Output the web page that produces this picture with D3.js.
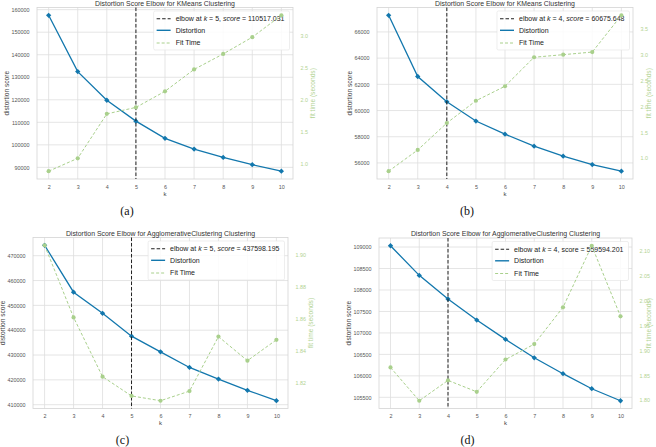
<!DOCTYPE html>
<html lang="en">
<head>
<meta charset="utf-8">
<title>Distortion score elbow - four panels</title>
<script src="https://d3js.org/d3.v7.min.js"></script>
<style type="text/css">
body { margin: 0; background: #fff; }
#vis svg { display: block; }
</style>
</head>
<body>
<div id="vis"></div>
<script>

/* Data */
/* ==== */

var kValues = [2, 3, 4, 5, 6, 7, 8, 9, 10];

var distA = [157500, 132500, 119800, 110517, 102900, 98100, 94400, 91200, 88300];
var fitA  = [0.89, 1.09, 1.78, 1.88, 2.13, 2.47, 2.71, 2.97, 3.31];

var distB = [67270, 62600, 60676, 59200, 58200, 57280, 56520, 55880, 55370];
var fitB  = [0.75, 1.16, 1.68, 2.11, 2.39, 2.95, 3.00, 3.05, 3.76];

var distC = [474200, 455300, 446800, 437598, 431300, 425000, 420300, 415800, 411600];
var fitC  = [1.906, 1.861, 1.824, 1.812, 1.809, 1.815, 1.849, 1.834, 1.847];

var distD = [109030, 108340, 107790, 107300, 106850, 106420, 106050, 105700, 105420];
var fitD  = [1.866, 1.799, 1.840, 1.817, 1.882, 1.913, 1.987, 2.111, 1.969];

var distTicksA = [90000, 100000, 110000, 120000, 130000, 140000, 150000, 160000];
var fitTicksA  = [1.0, 1.5, 2.0, 2.5, 3.0];
var distTicksB = [56000, 58000, 60000, 62000, 64000, 66000];
var fitTicksB  = [1.0, 1.5, 2.0, 2.5, 3.0, 3.5];
var distTicksC = [410000, 420000, 430000, 440000, 450000, 460000, 470000];
var fitTicksC  = [1.82, 1.84, 1.86, 1.88, 1.90];
var distTicksD = [105500, 106000, 106500, 107000, 107500, 108000, 108500, 109000];
var fitTicksD  = [1.80, 1.85, 1.90, 1.95, 2.00, 2.05, 2.10];

var titleKMeans = 'Distortion Score Elbow for KMeans Clustering';
var titleAgglo  = 'Distortion Score Elbow for AgglomerativeClustering Clustering';

var elbowK     = [5, 4, 5, 4];
var elbowScore = ['110517.031', '60675.648', '437598.195', '559594.201'];
var captions   = ['(a)', '(b)', '(c)', '(d)'];


/* Globals and SVG */
/* =============== */

var width = 656,
		height = 447;

var blue = '#1277ad',
		green = '#a9d08c',
		greenText = '#b3d393',
		gridColor = '#dedede',
		tickColor = '#555';

var font = '"Liberation Sans", Arial, sans-serif';

var svg = d3.select('#vis')
	.append('svg')
		.attr('width', width)
		.attr('height', height)
		.style('font-family', font);

svg.append('rect')
	.attr('width', width)
	.attr('height', height)
	.attr('fill', '#fff');

var panels = [
	{ dist: distA, fit: fitA, distTicks: distTicksA, fitTicks: fitTicksA, fitFmt: '.1f', title: titleKMeans,
		x0: 37, x1: 293, y0: 7.5, y1: 179, capY: 211, mathScore: true },
	{ dist: distB, fit: fitB, distTicks: distTicksB, fitTicks: fitTicksB, fitFmt: '.1f', title: titleKMeans,
		x0: 377, x1: 633, y0: 7.5, y1: 179, capY: 211, mathScore: true },
	{ dist: distC, fit: fitC, distTicks: distTicksC, fitTicks: fitTicksC, fitFmt: '.2f', title: titleAgglo,
		x0: 33, x1: 288, y0: 237.5, y1: 408.5, capY: 440, mathScore: true },
	{ dist: distD, fit: fitD, distTicks: distTicksD, fitTicks: fitTicksD, fitFmt: '.2f', title: titleAgglo,
		x0: 379, x1: 632, y0: 238, y1: 408.5, capY: 440, mathScore: false }
];


/* Functions */
/* ========= */

function padded(values) {
	var ext = d3.extent(values),
			pad = (ext[1] - ext[0]) * 0.05;
	return [ext[0] - pad, ext[1] + pad];
}

function drawPanel(p, i) {

	var g = svg.append('g').attr('class', 'panel');

	var x = d3.scaleLinear()
		.domain(padded(kValues))
		.range([p.x0, p.x1]);

	var y = d3.scaleLinear()
		.domain(padded(p.dist))
		.range([p.y1, p.y0]);

	var y2 = d3.scaleLinear()
		.domain(padded(p.fit))
		.range([p.y1, p.y0]);

	// grid
	g.append('g').selectAll('line.vgrid')
		.data(kValues)
		.enter().append('line')
			.attr('x1', function(d) { return x(d); })
			.attr('x2', function(d) { return x(d); })
			.attr('y1', p.y0)
			.attr('y2', p.y1)
			.attr('stroke', gridColor)
			.attr('stroke-width', 0.8);

	g.append('g').selectAll('line.hgrid')
		.data(p.distTicks)
		.enter().append('line')
			.attr('x1', p.x0)
			.attr('x2', p.x1)
			.attr('y1', function(d) { return y(d); })
			.attr('y2', function(d) { return y(d); })
			.attr('stroke', gridColor)
			.attr('stroke-width', 0.8);

	g.append('rect')
		.attr('x', p.x0)
		.attr('y', p.y0)
		.attr('width', p.x1 - p.x0)
		.attr('height', p.y1 - p.y0)
		.attr('fill', 'none')
		.attr('stroke', '#d4d4d4')
		.attr('stroke-width', 0.8);

	// axes (tick labels only, no tick marks)
	var xAxis = g.append('g')
		.attr('transform', 'translate(0,' + (p.y1 + 3) + ')')
		.call(d3.axisBottom(x).tickValues(kValues).tickSize(0).tickFormat(d3.format('d')));

	var yAxis = g.append('g')
		.attr('transform', 'translate(' + (p.x0 - 4.5) + ',0)')
		.call(d3.axisLeft(y).tickValues(p.distTicks).tickSize(0).tickFormat(d3.format('d')));

	var y2Axis = g.append('g')
		.attr('transform', 'translate(' + (p.x1 + 4.5) + ',0)')
		.call(d3.axisRight(y2).tickValues(p.fitTicks).tickSize(0).tickFormat(d3.format(p.fitFmt)));

	[xAxis, yAxis, y2Axis].forEach(function(a) {
		a.select('.domain').remove();
		a.selectAll('text')
			.attr('font-family', font)
			.attr('font-size', 5.4)
			.attr('fill', tickColor);
	});
	y2Axis.selectAll('text').attr('fill', greenText);

	var leftW = d3.max(yAxis.selectAll('text').nodes(), function(n) { return n.getBBox().width; });
	var rightW = d3.max(y2Axis.selectAll('text').nodes(), function(n) { return n.getBBox().width; });

	// axis labels (kept inside the page)
	var leftLabelX = Math.max(5, p.x0 - 4.5 - leftW - 6);
	var rightLabelX = Math.min(width - 10, p.x1 + 4.5 + rightW + 5);

	g.append('text')
		.attr('transform', 'translate(' + leftLabelX + ',' + ((p.y0 + p.y1) / 2) + ') rotate(-90)')
		.attr('text-anchor', 'middle')
		.attr('font-size', 6.6)
		.attr('fill', '#444')
		.text('distortion score');

	g.append('text')
		.attr('transform', 'translate(' + rightLabelX + ',' + ((p.y0 + p.y1) / 2) + ') rotate(-90)')
		.attr('text-anchor', 'middle')
		.attr('dy', '0.7em')
		.attr('font-size', 6.6)
		.attr('fill', greenText)
		.text('fit time (seconds)');

	g.append('text')
		.attr('x', (p.x0 + p.x1) / 2)
		.attr('y', p.y1 + 16.5)
		.attr('text-anchor', 'middle')
		.attr('font-size', 6)
		.attr('fill', '#444')
		.text('k');

	// title
	g.append('text')
		.attr('x', (p.x0 + p.x1) / 2)
		.attr('y', p.y0 - 2)
		.attr('text-anchor', 'middle')
		.attr('font-size', 6.9)
		.attr('fill', '#333')
		.text(p.title);

	// distortion line
	var distLine = d3.line()
		.x(function(d, j) { return x(kValues[j]); })
		.y(function(d) { return y(d); });

	g.append('path')
		.datum(p.dist)
		.attr('d', distLine)
		.attr('fill', 'none')
		.attr('stroke', blue)
		.attr('stroke-width', 1.3);

	g.append('g').selectAll('path.diamond')
		.data(p.dist)
		.enter().append('path')
			.attr('d', d3.symbol().type(d3.symbolSquare).size(14))
			.attr('transform', function(d, j) { return 'translate(' + x(kValues[j]) + ',' + y(d) + ') rotate(45)'; })
			.attr('fill', blue);

	// elbow line
	g.append('line')
		.attr('x1', x(elbowK[i]))
		.attr('x2', x(elbowK[i]))
		.attr('y1', p.y0)
		.attr('y2', p.y1)
		.attr('stroke', '#222')
		.attr('stroke-width', 1)
		.attr('stroke-dasharray', '3.5,2');

	// legend
	var leg = g.append('g');
	var box = leg.append('rect')
		.attr('fill', '#fff')
		.attr('fill-opacity', 0.85)
		.attr('stroke', '#e2e2e2')
		.attr('stroke-width', 0.6)
		.attr('rx', 1.5);

	var rows = [p.y0 + 11.3, p.y0 + 22.8, p.y0 + 35.5];

	var elbowText = leg.append('text')
		.attr('y', rows[0])
		.attr('dy', '0.35em')
		.attr('font-size', 7)
		.attr('fill', '#222');
	elbowText.append('tspan').text('elbow at ');
	elbowText.append('tspan').attr('font-style', 'italic').text('k');
	elbowText.append('tspan').text(' = ' + elbowK[i] + ', ');
	elbowText.append('tspan').attr('font-style', p.mathScore ? 'italic' : 'normal').text('score');
	elbowText.append('tspan').text(' = ' + elbowScore[i]);

	var distText = leg.append('text')
		.attr('y', rows[1])
		.attr('dy', '0.35em')
		.attr('font-size', 7)
		.attr('fill', '#222')
		.text('Distortion');

	var fitText = leg.append('text')
		.attr('y', rows[2])
		.attr('dy', '0.35em')
		.attr('font-size', 7)
		.attr('fill', '#222')
		.text('Fit Time');

	var textW = elbowText.node().getComputedTextLength();
	var boxW = textW + 27;
	var bx = p.x1 - 3.5 - boxW;

	box.attr('x', bx)
		.attr('y', p.y0 + 3.5)
		.attr('width', boxW)
		.attr('height', 39);

	[elbowText, distText, fitText].forEach(function(t) { t.attr('x', bx + 22); });

	leg.append('line')
		.attr('x1', bx + 3).attr('x2', bx + 17)
		.attr('y1', rows[0]).attr('y2', rows[0])
		.attr('stroke', '#222').attr('stroke-width', 1.1).attr('stroke-dasharray', '3.5,2');

	leg.append('line')
		.attr('x1', bx + 3).attr('x2', bx + 17)
		.attr('y1', rows[1]).attr('y2', rows[1])
		.attr('stroke', blue).attr('stroke-width', 1.4);

	leg.append('line')
		.attr('x1', bx + 3).attr('x2', bx + 17)
		.attr('y1', rows[2]).attr('y2', rows[2])
		.attr('stroke', green).attr('stroke-width', 1).attr('stroke-dasharray', '3,2');

	// fit time line (twin axis, drawn above legend)
	var fitLine = d3.line()
		.x(function(d, j) { return x(kValues[j]); })
		.y(function(d) { return y2(d); });

	g.append('path')
		.datum(p.fit)
		.attr('d', fitLine)
		.attr('fill', 'none')
		.attr('stroke', green)
		.attr('stroke-width', 1)
		.attr('stroke-dasharray', '3,2');

	g.append('g').selectAll('circle')
		.data(p.fit)
		.enter().append('circle')
			.attr('cx', function(d, j) { return x(kValues[j]); })
			.attr('cy', function(d) { return y2(d); })
			.attr('r', 2.1)
			.attr('fill', green);

	// caption
	svg.append('text')
		.attr('x', (p.x0 + p.x1) / 2 - 38)
		.attr('y', p.capY)
		.attr('dy', '0.35em')
		.attr('text-anchor', 'middle')
		.attr('font-family', '"Liberation Serif", "Times New Roman", serif')
		.attr('font-size', 12)
		.attr('fill', '#111')
		.text(captions[i]);

} // drawPanel()


/* Build */
/* ===== */

panels.forEach(drawPanel);

</script>
</body>
</html>
